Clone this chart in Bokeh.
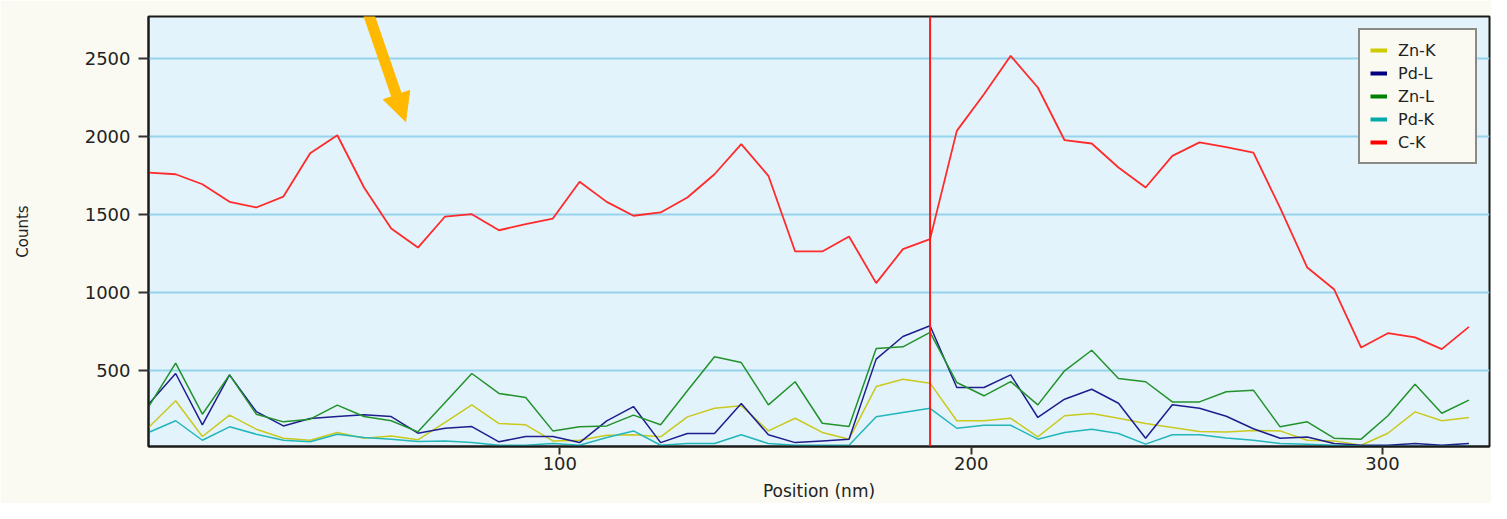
from bokeh.plotting import figure
from bokeh.models import (Span, Arrow, NormalHead, Legend, LegendItem,
                          FixedTicker, Range1d)
from bokeh.embed import file_html
from bokeh.resources import INLINE

# ---- data -------------------------------------------------------------
position_nm = [0.0, 6.6, 13.1, 19.7, 26.2, 32.8, 39.3, 45.9, 52.4, 59.0,
               65.5, 72.1, 78.6, 85.2, 91.7, 98.3, 104.8, 111.4, 117.9, 124.5,
               131.0, 137.6, 144.1, 150.7, 157.2, 163.8, 170.3, 176.9, 183.4, 190.0,
               196.5, 203.1, 209.6, 216.2, 222.7, 229.3, 235.8, 242.4, 248.9, 255.5,
               262.0, 268.6, 275.1, 281.7, 288.2, 294.8, 301.3, 307.9, 314.4, 321.0]

zn_k = [133, 304, 75, 212, 122, 64, 51, 101, 64, 79,
        54, 165, 278, 158, 150, 47, 51, 83, 86, 73,
        201, 256, 272, 111, 192, 101, 58, 395, 442, 417,
        176, 176, 192, 73, 208, 222, 192, 158, 133, 107,
        104, 113, 111, 51, 47, 19, 96, 233, 176, 197]

pd_l = [282, 479, 150, 470, 235, 143, 190, 203, 214, 203,
        96, 128, 139, 41, 75, 75, 36, 175, 267, 36,
        94, 94, 286, 86, 36, 47, 58, 571, 716, 785,
        389, 389, 470, 197, 314, 378, 288, 64, 278, 256,
        205, 125, 64, 72, 30, 19, 19, 30, 19, 30]

zn_l = [265, 545, 218, 470, 218, 169, 186, 276, 203, 176,
        105, 293, 479, 351, 325, 111, 137, 143, 212, 150,
        368, 586, 549, 278, 426, 160, 139, 639, 650, 742,
        421, 336, 427, 278, 496, 628, 447, 426, 297, 297,
        362, 372, 137, 169, 64, 58, 208, 410, 224, 308]

pd_k = [101, 176, 51, 137, 90, 51, 41, 90, 69, 58,
        43, 47, 36, 19, 19, 30, 19, 69, 111, 19,
        30, 30, 86, 30, 19, 19, 19, 201, 229, 256,
        128, 147, 147, 58, 101, 122, 94, 26, 86, 86,
        66, 51, 30, 26, 19, 15, 12, 12, 12, 12]

c_k = [1767, 1756, 1692, 1579, 1543, 1613, 1891, 2006, 1671, 1408,
       1286, 1485, 1500, 1397, 1436, 1472, 1708, 1579, 1490, 1511,
       1607, 1756, 1949, 1746, 1261, 1261, 1357, 1058, 1276, 1340,
       2034, 2269, 2515, 2312, 1974, 1953, 1799, 1671, 1874, 1960,
       1930, 1895, 1540, 1158, 1019, 645, 737, 710, 635, 778]

series_names = ["Zn-K", "Pd-L", "Zn-L", "Pd-K", "C-K"]
x_ticks = [100, 200, 300]
y_ticks = [500, 1000, 1500, 2000, 2500]
marker_position = 190.0
arrow_start = (51.7, 2920)
arrow_end = (62.5, 2094)

# ---- styles -----------------------------------------------------------
line_colors = ["#C9C91E", "#1E1E8E", "#22922A", "#22B6BA", "#FF2A2A"]
legend_colors = ["#CCCC00", "#000080", "#008000", "#00AAAA", "#FF0000"]
line_widths = [1.5, 1.5, 1.5, 1.5, 1.8]
TEXT = "#222222"
FONT = "DejaVu Sans"
NAN = float("nan")

p = figure(width=1491, height=503, output_backend="svg", toolbar_location=None,
           x_range=Range1d(0, 326), y_range=Range1d(11, 2767),
           min_border_left=148, min_border_right=2, min_border_top=16,
           min_border_bottom=57,
           background_fill_color="#E2F3FB", border_fill_color="#FAFAF2",
           outline_line_color="#1A1A1A", outline_line_width=2)

series = [zn_k, pd_l, zn_l, pd_k, c_k]
for vals, col, lw in zip(series, line_colors, line_widths):
    p.line(position_nm, vals, line_color=col, line_width=lw)

# legend proxies (no visible data) drawn as thick short bars
items = []
for name, col in zip(series_names, legend_colors):
    r = p.line(x=[NAN], y=[NAN], line_color=col, line_width=4)
    items.append(LegendItem(label=name, renderers=[r]))

legend = Legend(items=items, location="top_right", margin=12,
                padding=10, spacing=3, glyph_width=17, glyph_height=20,
                label_height=20, label_width=67, label_standoff=11,
                label_text_font=FONT, label_text_font_size="16px",
                label_text_color=TEXT,
                background_fill_color="#FAFAF2", background_fill_alpha=1,
                border_line_color="#1A1A1A", border_line_width=2)
p.add_layout(legend)

p.add_layout(Span(location=marker_position, dimension="height",
                  line_color="#FF1A1A", line_width=2))

p.add_layout(Arrow(end=NormalHead(size=28, fill_color="#FFB900",
                                  line_color="#FFB900"),
                   x_start=arrow_start[0], y_start=arrow_start[1],
                   x_end=arrow_end[0], y_end=arrow_end[1],
                   line_color="#FFB900", line_width=11))

# grid
p.xgrid.visible = False
p.ygrid.ticker = FixedTicker(ticks=y_ticks)
p.ygrid.grid_line_color = "#96D4EE"
p.ygrid.grid_line_width = 2

# axes
p.xaxis.ticker = FixedTicker(ticks=x_ticks)
p.yaxis.ticker = FixedTicker(ticks=y_ticks)
for ax in (p.xaxis[0], p.yaxis[0]):
    ax.axis_line_color = "#1A1A1A"
    ax.axis_line_width = 2
    ax.major_tick_line_color = "#333333"
    ax.major_tick_line_width = 2
    ax.major_tick_in = 0
    ax.minor_tick_line_color = None
    ax.major_label_text_font = FONT
    ax.major_label_text_font_size = "18px"
    ax.major_label_text_color = TEXT
    ax.axis_label_text_font = FONT
    ax.axis_label_text_font_style = "normal"
    ax.axis_label_text_color = TEXT

p.xaxis.major_tick_out = 8
p.xaxis.major_label_standoff = 2
p.xaxis.axis_label = "Position (nm)"
p.xaxis.axis_label_text_font_size = "17px"
p.xaxis.axis_label_standoff = 8

p.yaxis.major_tick_out = 10
p.yaxis.major_label_standoff = 8
p.yaxis.axis_label = "Counts"
p.yaxis.axis_label_text_font_size = "15px"
p.yaxis.axis_label_standoff = 50

open("out.html", "w").write(file_html(p, INLINE))
